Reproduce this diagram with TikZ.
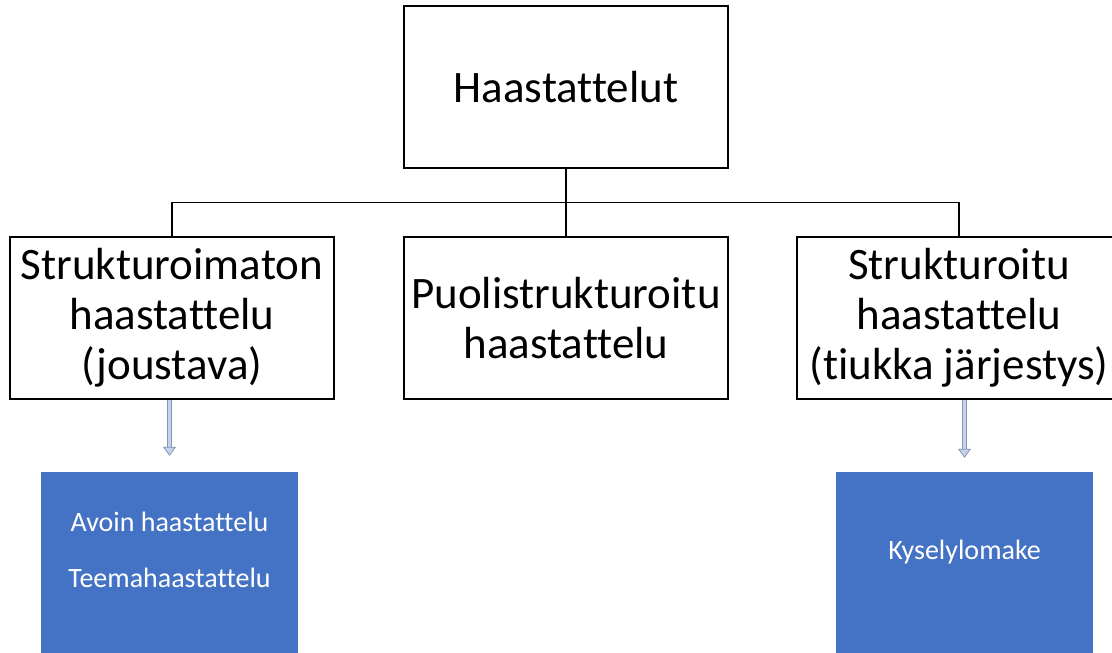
\documentclass[tikz,border=0pt]{standalone}
\usepackage{fontspec}
\setmainfont{Carlito}[Ligatures=NoCommon]
\usetikzlibrary{positioning,arrows.meta,calc}
\definecolor{officeblue}{HTML}{4472C4}
\definecolor{arrowfill}{HTML}{C5D3EC}
\definecolor{arrowline}{HTML}{8595B0}

\begin{document}
\begin{tikzpicture}[x=1pt,y=1pt]
	\tikzset{
		level/.style={draw,line width=1.5pt,minimum width=324pt,minimum height=162pt,inner sep=0pt,align=center,font=\fontsize{45}{50}\selectfont},
		methodbox/.style={fill=officeblue,minimum width=257pt,minimum height=190pt,inner sep=0pt},
		methodtext/.style={text=white,align=center,font=\fontsize{28}{32}\selectfont},
		hollow/.style={draw=arrowline,line width=0.8pt,double=arrowfill,double distance=3.4pt,
			-{Triangle[length=9pt,width=13pt,fill=arrowfill]}}
	}
	\useasboundingbox (0,0) rectangle (1112,-653);

	%% Top of tree
	\node[level] (haast) at (566,-87) {Haastattelut};

	\node[level] (strukt0) at (172,-318) {Strukturoimaton\\haastattelu\\(joustava)};
	\node[level] (puoli) at (566,-318) {Puolistrukturoitu\\haastattelu};
	\node[level] (strukt1) at (959,-318) {Strukturoitu\\haastattelu\\(tiukka järjestys)};

	\draw[line width=1.4pt] (haast.south) -- (puoli.north);
	\draw[line width=1.4pt] (strukt0.north) |- ($(haast.south)!0.5!(puoli.north)$) -| (strukt1.north);

	%% Methods below
	\node[methodbox] (avoin) at (169.5,-567) {};
	\node[methodtext] (avointxt) at ([yshift=17pt]avoin.center) {Avoin haastattelu\\[24pt]Teemahaastattelu};
	\node[methodbox] (kysely) at (964.5,-567) {};
	\node[methodtext] (kyselytxt) at ([yshift=15pt]kysely.center) {Kyselylomake};

	\draw[hollow,shorten >=16pt] (avoin.north |- strukt0.south) -- (avoin.north);
	\draw[hollow,shorten >=14pt] (kysely.north |- strukt1.south) -- (kysely.north);
\end{tikzpicture}
\end{document}
